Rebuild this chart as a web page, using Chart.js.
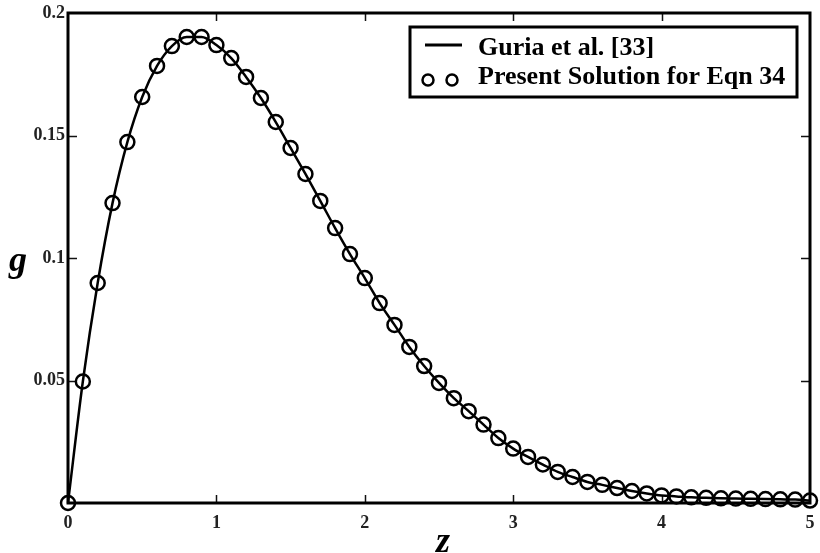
<!DOCTYPE html>
<html>
<head>
<meta charset="utf-8">
<script src="https://cdn.jsdelivr.net/npm/chart.js@4.4.1/dist/chart.umd.min.js"></script>
<style>
  html, body { margin: 0; padding: 0; background: #fff; }
  #wrap { width: 820px; height: 553px; }
</style>
</head>
<body>
<div id="wrap"><canvas id="plot"></canvas></div>
<script>
// z grid and g values
const zValues = [0, 0.1, 0.2, 0.3, 0.4, 0.5, 0.6, 0.7, 0.8, 0.9,
  1.0, 1.1, 1.2, 1.3, 1.4, 1.5, 1.6, 1.7, 1.8, 1.9,
  2.0, 2.1, 2.2, 2.3, 2.4, 2.5, 2.6, 2.7, 2.8, 2.9,
  3.0, 3.1, 3.2, 3.3, 3.4, 3.5, 3.6, 3.7, 3.8, 3.9,
  4.0, 4.1, 4.2, 4.3, 4.4, 4.5, 4.6, 4.7, 4.8, 4.9, 5.0];

// Guria et al. [33] (solid line)
const guriaG = [0, 0.0496, 0.0898, 0.1224, 0.1473, 0.1657, 0.1784, 0.1865, 0.1902, 0.1902,
  0.1869, 0.1816, 0.1739, 0.1653, 0.1555, 0.1449, 0.1343, 0.1233, 0.1122, 0.1016,
  0.0918, 0.0816, 0.0727, 0.0637, 0.0559, 0.0490, 0.0428, 0.0375, 0.0320, 0.0265,
  0.0222, 0.0188, 0.0157, 0.0127, 0.0106, 0.0086, 0.0074, 0.0061, 0.0049, 0.0039,
  0.0031, 0.0027, 0.0023, 0.0021, 0.0019, 0.0018, 0.0017, 0.0016, 0.0015, 0.0014, 0.0010];

// Present solution for Eqn 34 (open circles)
const presentG = [0, 0.0496, 0.0898, 0.1224, 0.1473, 0.1657, 0.1784, 0.1865, 0.1902, 0.1902,
  0.1869, 0.1816, 0.1739, 0.1653, 0.1555, 0.1449, 0.1343, 0.1233, 0.1122, 0.1016,
  0.0918, 0.0816, 0.0727, 0.0637, 0.0559, 0.0490, 0.0428, 0.0375, 0.0320, 0.0265,
  0.0222, 0.0188, 0.0157, 0.0127, 0.0106, 0.0086, 0.0074, 0.0061, 0.0049, 0.0039,
  0.0031, 0.0027, 0.0023, 0.0021, 0.0019, 0.0018, 0.0017, 0.0016, 0.0015, 0.0014, 0.0010];

const xTicks = [0, 1, 2, 3, 4, 5];
const yTicks = [0.05, 0.1, 0.15, 0.2];
const legendLabels = ['Guria et al. [33]', 'Present Solution for Eqn 34'];

const SERIF = '"Liberation Serif", "DejaVu Serif", serif';

// frame, inward ticks, axis titles and the boxed legend
const framePlugin = {
  id: 'frame',
  beforeDatasetsDraw(chart) {
    const { ctx, chartArea: a, scales } = chart;
    ctx.save();
    ctx.strokeStyle = '#111';
    ctx.lineWidth = 1.5;
    ctx.beginPath();
    xTicks.slice(1, -1).forEach(v => {
      const px = Math.round(scales.x.getPixelForValue(v)) + 0.5;
      ctx.moveTo(px, a.bottom); ctx.lineTo(px, a.bottom - 8);
      ctx.moveTo(px, a.top); ctx.lineTo(px, a.top + 8);
    });
    yTicks.slice(0, -1).forEach(v => {
      const py = Math.round(scales.y.getPixelForValue(v)) + 0.5;
      ctx.moveTo(a.left, py); ctx.lineTo(a.left + 9, py);
      ctx.moveTo(a.right, py); ctx.lineTo(a.right - 9, py);
    });
    ctx.stroke();
    ctx.strokeStyle = '#000';
    ctx.lineWidth = 3;
    ctx.strokeRect(a.left, a.top, a.right - a.left, a.bottom - a.top);
    ctx.restore();
  },
  afterDraw(chart) {
    const { ctx, chartArea: a } = chart;
    ctx.save();
    ctx.fillStyle = '#000';
    ctx.font = 'italic bold 36px ' + SERIF;
    ctx.textAlign = 'center';
    ctx.textBaseline = 'middle';
    ctx.fillText('g', 18, (a.top + a.bottom) / 2 + 4);
    ctx.fillText('z', (a.left + a.right) / 2 + 4, a.bottom + 40);

    // legend box
    const bx = a.right - 400, by = a.top + 14, bw = 387, bh = 70;
    ctx.lineWidth = 3;
    ctx.strokeStyle = '#000';
    ctx.strokeRect(bx, by, bw, bh);
    ctx.beginPath();
    ctx.moveTo(bx + 15, by + 18); ctx.lineTo(bx + 52, by + 18);
    ctx.stroke();
    ctx.lineWidth = 2.5;
    [bx + 18, bx + 42].forEach(cx => {
      ctx.beginPath();
      ctx.arc(cx, by + 53, 5.5, 0, Math.PI * 2);
      ctx.stroke();
    });
    ctx.font = 'bold 26px ' + SERIF;
    ctx.textAlign = 'left';
    ctx.textBaseline = 'alphabetic';
    ctx.fillText(legendLabels[0], bx + 68, by + 28);
    ctx.fillText(legendLabels[1], bx + 68, by + 57);
    ctx.restore();
  }
};

new Chart(document.getElementById('plot'), {
  type: 'line',
  data: {
    labels: zValues,
    datasets: [{
      label: legendLabels[0],
      data: zValues.map((z, i) => ({ x: z, y: guriaG[i] })),
      borderColor: '#000',
      borderWidth: 2.5,
      pointRadius: 0,
      cubicInterpolationMode: 'monotone',
      clip: false
    }, {
      label: legendLabels[1],
      data: zValues.map((z, i) => ({ x: z, y: presentG[i] })),
      showLine: false,
      pointStyle: 'circle',
      pointRadius: 7,
      pointBorderWidth: 2.5,
      pointBorderColor: '#000',
      pointBackgroundColor: 'rgba(0,0,0,0)',
      clip: false
    }]
  },
  options: {
    responsive: true,
    maintainAspectRatio: false,
    animation: false,
    layout: { padding: { top: 13, right: 10, left: 0, bottom: 0 } },
    plugins: { legend: { display: false }, tooltip: { enabled: false } },
    scales: {
      x: {
        type: 'linear',
        min: 0, max: 5,
        afterFit: s => { s.height = 50; s.paddingLeft = 0; s.paddingRight = 0; },
        afterBuildTicks: s => { s.ticks = xTicks.map(v => ({ value: v })); },
        grid: { display: false, drawTicks: false },
        border: { display: false },
        ticks: {
          padding: 10,
          color: '#222',
          font: { family: SERIF, size: 18, weight: 'bold' },
          callback: v => String(v)
        }
      },
      y: {
        type: 'linear',
        min: 0, max: 0.2,
        afterFit: s => { s.width = 68; s.paddingTop = 0; s.paddingBottom = 0; },
        afterBuildTicks: s => { s.ticks = yTicks.map(v => ({ value: v })); },
        grid: { display: false, drawTicks: false },
        border: { display: false },
        ticks: {
          padding: 3,
          color: '#222',
          font: { family: SERIF, size: 18, weight: 'bold' },
          callback: v => String(Number(v.toFixed(2)))
        }
      }
    }
  },
  plugins: [framePlugin]
});
</script>
</body>
</html>
